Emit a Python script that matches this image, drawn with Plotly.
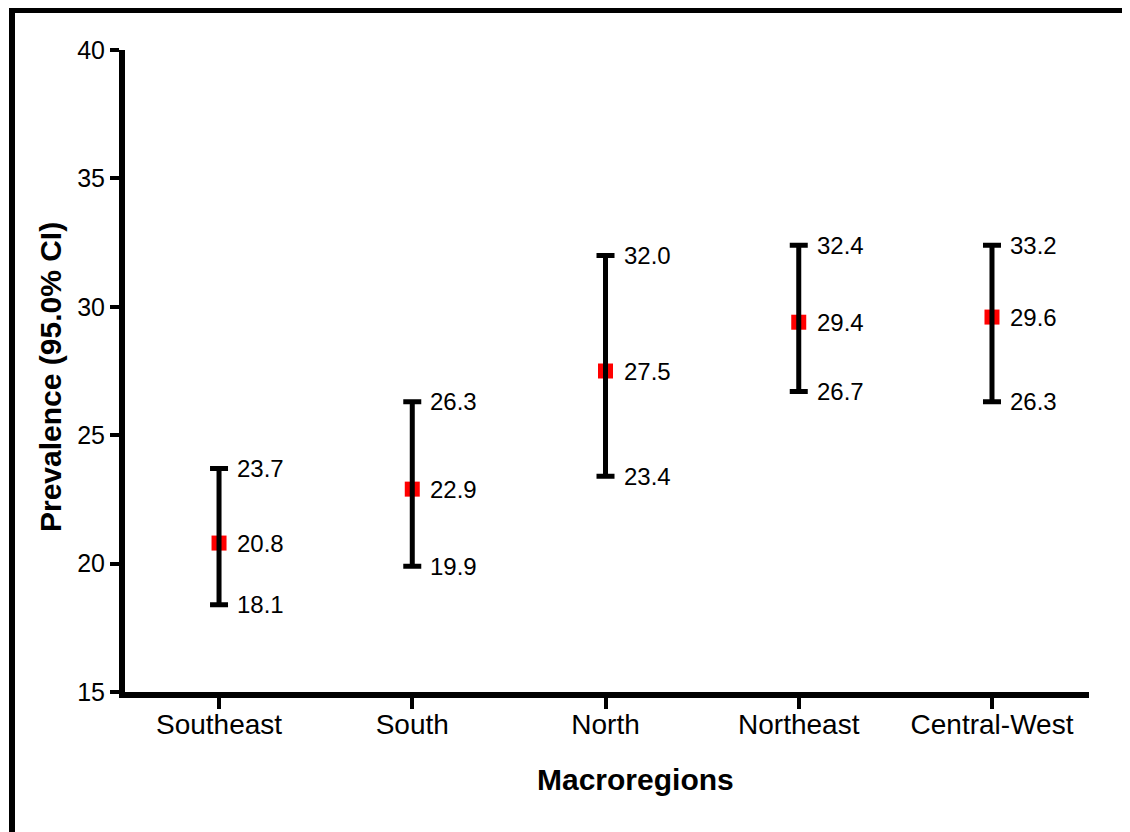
import plotly.graph_objects as go

# ---- data ----
categories = ["Southeast", "South", "North", "Northeast", "Central-West"]
prevalence = [20.8, 22.9, 27.5, 29.4, 29.6]
ci_lower = [18.4, 19.9, 23.4, 26.7, 26.3]
ci_upper = [23.7, 26.3, 32.0, 32.4, 32.4]
label_upper = ["23.7", "26.3", "32.0", "32.4", "33.2"]
label_mean = ["20.8", "22.9", "27.5", "29.4", "29.6"]
label_lower = ["18.1", "19.9", "23.4", "26.7", "26.3"]
y_ticks = [15, 20, 25, 30, 35, 40]

x_pos = list(range(len(categories)))
err_plus = [u - m for u, m in zip(ci_upper, prevalence)]
err_minus = [m - l for m, l in zip(prevalence, ci_lower)]

FONT = "Liberation Sans, Arial, sans-serif"

fig = go.Figure()
fig.add_trace(go.Scatter(
    x=x_pos, y=prevalence, mode="markers",
    marker=dict(symbol="square", size=15, color="#ff0000", line=dict(width=0)),
    showlegend=False, hoverinfo="skip",
))
fig.add_trace(go.Scatter(
    x=x_pos, y=prevalence, mode="markers",
    marker=dict(size=1, color="rgba(0,0,0,0)"),
    error_y=dict(type="data", symmetric=False, array=err_plus, arrayminus=err_minus,
                 color="black", thickness=5, width=9),
    showlegend=False, hoverinfo="skip",
))

annotations = []
for i in x_pos:
    for yv, txt in ((ci_upper[i], label_upper[i]), (prevalence[i], label_mean[i]),
                    (ci_lower[i], label_lower[i])):
        annotations.append(dict(
            x=i, y=yv, xref="x", yref="y", text=txt, showarrow=False,
            xanchor="left", yanchor="middle", xshift=16,
            font=dict(family=FONT, size=24, color="black"),
        ))

OFF = 8  # page body margin
L, R, T, B = 125 - OFF, 1089 - OFF, 50 - OFF, 692 - OFF
W, H = R - L, B - T
def px(x):
    return (x - OFF - L) / W
def py(y):
    return (B - (y - OFF)) / H

annotations.append(dict(
    x=px(635), y=py(779), xref="paper", yref="paper", text="<b>Macroregions</b>",
    showarrow=False, xanchor="center", yanchor="middle",
    font=dict(family=FONT, size=30, color="black"),
))
annotations.append(dict(
    x=px(50), y=py(377), xref="paper", yref="paper", text="<b>Prevalence (95.0% CI)</b>",
    showarrow=False, xanchor="center", yanchor="middle", textangle=-90,
    font=dict(family=FONT, size=30, color="black"),
))

fig.update_layout(
    width=1130, height=832,
    margin=dict(l=L, r=1130 - R, t=T, b=832 - B, pad=0),
    paper_bgcolor="white", plot_bgcolor="white",
    annotations=annotations,
    shapes=[dict(type="rect", xref="paper", yref="paper",
                 x0=px(12), x1=px(1150), y0=py(860), y1=py(10),
                 line=dict(color="black", width=6), fillcolor="rgba(0,0,0,0)",
                 layer="above")],
    xaxis=dict(
        range=[-0.4866, 4.502], tickvals=x_pos, ticktext=categories,
        showline=True, linewidth=6, linecolor="black",
        ticks="outside", ticklen=11, tickwidth=4, tickcolor="black",
        ticklabelstandoff=-9,
        showgrid=False, zeroline=False,
        tickfont=dict(family=FONT, size=28, color="black"),
    ),
    yaxis=dict(
        range=[15, 40], tickvals=y_ticks,
        showline=True, linewidth=6, linecolor="black",
        ticks="outside", ticklen=9, tickwidth=4, tickcolor="black",
        showgrid=False, zeroline=False,
        tickfont=dict(family=FONT, size=25, color="black"),
    ),
)

fig.write_html("out.html", config={"displayModeBar": False})
